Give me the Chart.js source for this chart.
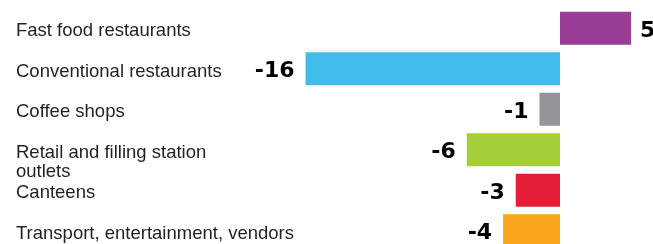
<!DOCTYPE html>
<html>
<head>
<meta charset="utf-8">
<script src="https://cdn.jsdelivr.net/npm/chart.js@4"></script>
<style>
html,body{margin:0;padding:0;background:#fff;overflow:hidden;}
#wrap{width:653px;height:244px;overflow:hidden;}
</style>
</head>
<body>
<div id="wrap"><canvas id="c" width="653" height="251"></canvas></div>
<script>
const categories = [
  ["Fast food restaurants"],
  ["Conventional restaurants"],
  ["Coffee shops"],
  ["Retail and filling station", "outlets"],
  ["Canteens"],
  ["Transport, entertainment, vendors"]
];
const changes = [4.5, -16.1, -1.3, -5.9, -2.8, -3.6];
const barColors = ["#993d97", "#41bdeb", "#939598", "#a6ce39", "#e31e36", "#faa61a"];

const labelPlugin = {
  id: 'labels',
  afterDatasetsDraw(chart) {
    const ctx = chart.ctx;
    const y = chart.scales.y;
    const meta = chart.getDatasetMeta(0);
    ctx.save();
    ctx.font = '18.5px "Liberation Sans", Arial, sans-serif';
    ctx.fillStyle = '#231f20';
    ctx.textAlign = 'left';
    ctx.textBaseline = 'middle';
    categories.forEach((lines, i) => {
      const cy = y.getPixelForValue(i) + 3;
      lines.forEach((t, k) => ctx.fillText(t, 16, cy + k * 19));
    });
    ctx.font = 'bold 22px "DejaVu Sans", sans-serif';
    ctx.fillStyle = '#000';
    meta.data.forEach((bar, i) => {
      const v = changes[i];
      const txt = String(Math.round(v));
      const cy = bar.y + 3;
      if (v >= 0) {
        ctx.textAlign = 'left';
        ctx.fillText(txt, bar.x + 9, cy);
      } else {
        ctx.textAlign = 'right';
        ctx.fillText(txt, bar.x - 11, cy);
      }
    });
    ctx.restore();
  }
};

new Chart(document.getElementById('c'), {
  type: 'bar',
  data: {
    labels: categories.map(l => l.join(' ')),
    datasets: [{
      data: changes,
      backgroundColor: barColors,
      borderWidth: 0,
      barPercentage: 1,
      categoryPercentage: 0.815
    }]
  },
  options: {
    indexAxis: 'y',
    responsive: false,
    devicePixelRatio: 1,
    animation: false,
    layout: { padding: { left: 240, right: 0, top: 8, bottom: 0 } },
    plugins: { legend: { display: false }, tooltip: { enabled: false } },
    scales: {
      x: { display: false, min: -20.25, max: 5.886 },
      y: { display: false }
    }
  },
  plugins: [labelPlugin]
});
</script>
</body>
</html>
